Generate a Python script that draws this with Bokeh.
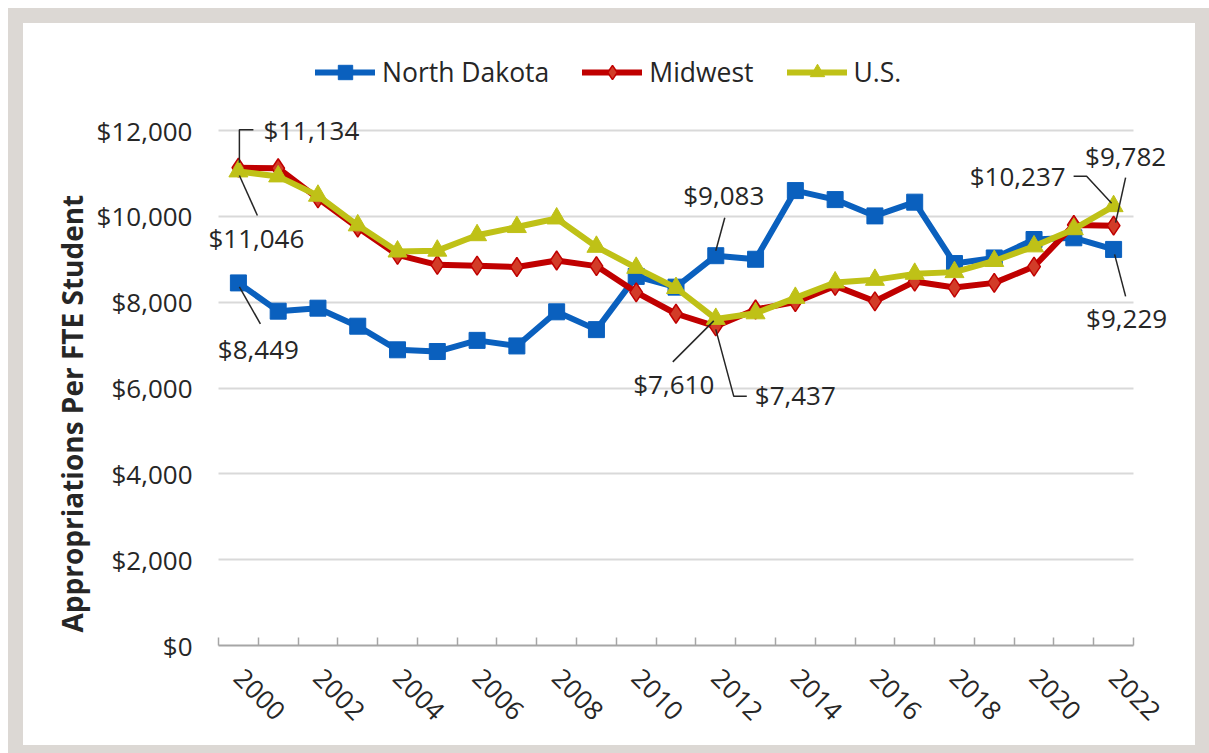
import math
from bokeh.plotting import figure
from bokeh.models import (Range1d, FixedTicker, NumeralTickFormatter, Legend, LegendItem, Label, Title)
from bokeh.embed import file_html
from bokeh.resources import INLINE

# ---------------- data ----------------
years = list(range(2000, 2023))
north_dakota = [8449, 7790, 7860, 7440, 6890, 6850, 7110, 6980, 7775, 7360, 8600, 8350,
                9083, 9000, 10600, 10390, 10010, 10330, 8900, 9030, 9460, 9500, 9229]
midwest = [11134, 11120, 10420, 9740, 9100, 8870, 8850, 8820, 8970, 8840, 8230, 7730,
           7437, 7830, 8000, 8380, 8020, 8480, 8340, 8450, 8830, 9800, 9782]
us = [11046, 10930, 10480, 9790, 9180, 9200, 9560, 9750, 9950, 9290, 8800, 8330,
      7610, 7740, 8100, 8460, 8520, 8660, 8700, 8960, 9300, 9700, 10237]
series_names = ["North Dakota", "Midwest", "U.S."]
y_ticks = [0, 2000, 4000, 6000, 8000, 10000, 12000]
x_label_years = list(range(2000, 2023, 2))
y_title = "Appropriations Per FTE Student"

# ---------------- style ----------------
FONT = "Open Sans"
FS = "26px"
TXT = "#262626"
BLUE = "#0A60BE"
RED = "#C00000"
RED_FILL = "#D23C28"
YEL = "#BFC117"
FRAME_GRAY = "#DCD8D4"

# canvas and plot-area geometry (pixels)
W, H = 1172, 722
AX_L, AX_W = 195, 915       # data area left edge and width (23 categories)
AX_B, AX_H = 100, 515       # data area bottom margin and height (0..12000)
TOP_PAD, RIGHT_PAD, LEFT_PAD = 17, 5, 18  # room kept inside the frame for legend / labels

px_per_year = AX_W / 23.0
px_per_unit = AX_H / 12000.0
x0, x1 = years[0] - 0.5, years[-1] + 0.5
y0, y1 = 0, y_ticks[-1]
frame_l = AX_L - LEFT_PAD
frame_w = W - frame_l - RIGHT_PAD
frame_h = H - AX_B - TOP_PAD

p = figure(width=W, height=H, output_backend="svg", toolbar_location=None,
           x_range=Range1d(x0 - LEFT_PAD / px_per_year, x0 - LEFT_PAD / px_per_year + frame_w / px_per_year),
           y_range=Range1d(y0, y0 + frame_h / px_per_unit),
           min_border_left=frame_l, min_border_right=RIGHT_PAD,
           min_border_top=TOP_PAD, min_border_bottom=AX_B)
p.styles = {"outline": "15px solid " + FRAME_GRAY, "margin-left": "23px", "margin-top": "23px"}
p.outline_line_color = None
p.background_fill_color = "white"
p.border_fill_color = "white"

# axes
p.xgrid.grid_line_color = None
p.ygrid.grid_line_color = "#D9D9D9"
p.ygrid.grid_line_width = 2
p.ygrid.cross_bounds = (x0, x1)
p.ygrid.bounds = (y0, y1)

xa = p.xaxis[0]
xa.bounds = (x0, x1)
xa.ticker = FixedTicker(ticks=x_label_years, minor_ticks=[y - 0.5 for y in years] + [x1])
xa.major_tick_line_color = None
xa.minor_tick_in = 8
xa.minor_tick_out = 0
xa.minor_tick_line_color = "#A6A6A6"
xa.minor_tick_line_width = 1.5
xa.axis_line_color = "#A6A6A6"
xa.axis_line_width = 2
xa.major_label_orientation = -math.pi / 4
xa.major_label_standoff = 22
xa.major_label_text_font = FONT
xa.major_label_text_font_size = FS
xa.major_label_text_color = TXT

ya = p.yaxis[0]
ya.ticker = FixedTicker(ticks=y_ticks)
ya.formatter = NumeralTickFormatter(format="$0,0")
ya.axis_line_color = None
ya.major_tick_line_color = None
ya.minor_tick_line_color = None
ya.major_label_standoff = 2
ya.major_label_text_font = FONT
ya.major_label_text_font_size = FS
ya.major_label_text_color = TXT

title = Title(text=y_title, align="left", offset=13, standoff=5,
              text_font=FONT, text_font_size="28px", text_font_style="bold", text_color=TXT)
p.add_layout(title, "left")

# series
l1 = p.line(years, north_dakota, line_color=BLUE, line_width=6, line_join="round", line_cap="round")
m1 = p.scatter(years, north_dakota, marker="square", size=16, fill_color=BLUE, line_color=BLUE)
l2 = p.line(years, midwest, line_color=RED, line_width=6, line_join="round", line_cap="round")
m2 = p.scatter(years, midwest, marker="diamond", size=19, fill_color=RED_FILL, line_color=RED, line_width=1.5)
l3 = p.line(years, us, line_color=YEL, line_width=6, line_join="round", line_cap="round")
m3 = p.scatter(years, us, marker="triangle", size=19, fill_color=YEL, line_color=YEL)

legend = Legend(items=[LegendItem(label=series_names[0], renderers=[l1, m1]),
                       LegendItem(label=series_names[1], renderers=[l2, m2]),
                       LegendItem(label=series_names[2], renderers=[l3, m3])],
                orientation="horizontal", location=(97 + LEFT_PAD, 555),
                glyph_width=60, glyph_height=36, label_standoff=7, spacing=33,
                padding=0, margin=0, border_line_color=None, background_fill_alpha=0,
                label_text_font=FONT, label_text_font_size="26.5px", label_text_color=TXT)
p.add_layout(legend, "center")

# ---------------- annotations ----------------
# (series values, index, align, text offset (dx, dy up) px, leader points as px offsets)
notes = [
    (midwest, 0, "left", (25, 38), [(1, 5), (1, 38), (15, 38)]),
    (us, 0, "center", (18, -67), [(1, -4), (19, -44)]),
    (north_dakota, 0, "center", (20, -66), [(1, -4), (22, -41)]),
    (north_dakota, 12, "center", (8, 61), [(0, 5), (9, 38)]),
    (us, 12, "center", (-42, -65), [(-2, -2), (-43, -43)]),
    (midwest, 12, "left", (39, -69), [(0, -3), (18, -70), (31, -70)]),
    (us, 22, "right", (-48, 30), [(-2, 3), (-27, 30), (-40, 30)]),
    (midwest, 22, "center", (12, 70), [(2, 3), (12, 48)]),
    (north_dakota, 22, "center", (13, -69), [(1, -5), (12, -47)]),
]
xs_lead, ys_lead = [], []
for vals, i, align, (dx, dy), pts in notes:
    v = vals[i]
    yr = years[i]
    p.add_layout(Label(x=yr, y=v, x_offset=dx, y_offset=dy, text="${:,}".format(v),
                       text_align=align, text_baseline="middle", text_font=FONT,
                       text_font_size=FS, text_color=TXT))
    xs_lead.append([yr + a / px_per_year for a, b in pts])
    ys_lead.append([v + b / px_per_unit for a, b in pts])
p.multi_line(xs_lead, ys_lead, line_color=TXT, line_width=1.5)

open("out.html", "w").write(file_html(p, INLINE))
